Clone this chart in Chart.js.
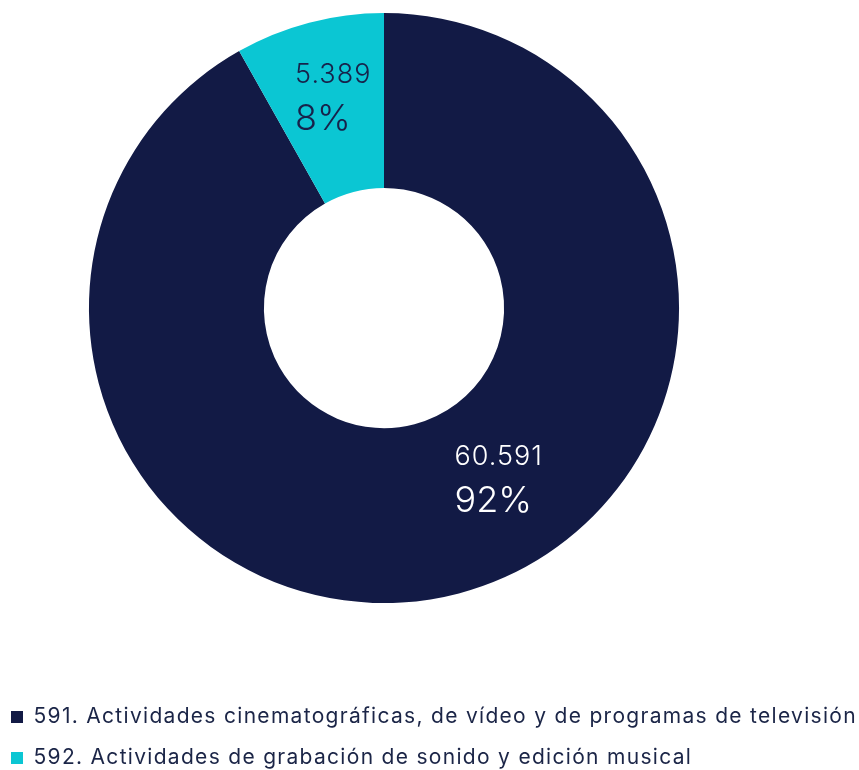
<!DOCTYPE html>
<html lang="es">
<head>
<meta charset="utf-8">
<title>Actividades cinematográficas y musicales</title>
<script src="https://cdn.jsdelivr.net/npm/chart.js@4.4.1/dist/chart.umd.min.js"></script>
<style>
  html, body { margin: 0; padding: 0; background: #ffffff; }
  #wrap { width: 859px; height: 770px; position: relative; }
</style>
</head>
<body>
<div id="wrap"><canvas id="myChart"></canvas></div>
<script>
// categorías y valores
const labels = [
  '591. Actividades cinematográficas, de vídeo y de programas de televisión',
  '592. Actividades de grabación de sonido y edición musical'
];
const values = [60591, 5389];
const colors = ['#121a45', '#0bc6d3'];
const labelColors = ['#ffffff', '#17224a'];

const FONT = 'Inter, "Noto Sans", sans-serif';

// formato con punto de miles
function fmt(n) {
  return String(n).replace(/\B(?=(\d{3})+(?!\d))/g, '.');
}

// espacio vacío a la derecha del anillo (solo afecta al área del gráfico, no a la leyenda)
const rightGap = {
  id: 'rightGap',
  beforeInit(chart) {
    Chart.layouts.addBox(chart, {
      position: 'right',
      weight: 0,
      fullSize: false,
      options: {},
      update(maxWidth, maxHeight) { this.width = 91; this.height = maxHeight; },
      isHorizontal() { return false; },
      getPadding() { return { left: 0, right: 0, top: 0, bottom: 0 }; },
      draw() {}
    });
  }
};

// la leyenda lleva algo de espaciado entre letras
const legendSpacing = {
  id: 'legendSpacing',
  beforeDraw(chart) { chart.ctx.letterSpacing = '1.3px'; },
  beforeDatasetsDraw(chart) { chart.ctx.letterSpacing = '0px'; }
};

// etiquetas de valor y porcentaje dentro de cada sector
const sliceLabels = {
  id: 'sliceLabels',
  afterDatasetsDraw(chart) {
    const ctx = chart.ctx;
    const meta = chart.getDatasetMeta(0);
    const total = values.reduce((a, b) => a + b, 0);
    const place = [{ a: 0.444, r: 0.49 }, { a: 0.52, r: 0.55 }]; // dónde va el texto en cada arco
    meta.data.forEach((arc, i) => {
      const p = arc.getProps(['x', 'y', 'startAngle', 'endAngle', 'innerRadius', 'outerRadius'], true);
      const ang = p.startAngle + place[i].a * (p.endAngle - p.startAngle);
      const rad = p.innerRadius + place[i].r * (p.outerRadius - p.innerRadius);
      const cx = p.x + Math.cos(ang) * rad;
      const cy = p.y + Math.sin(ang) * rad;
      const line1 = fmt(values[i]);
      const line2 = Math.round(values[i] / total * 100) + '%';
      ctx.save();
      ctx.fillStyle = labelColors[i];
      ctx.textBaseline = 'middle';
      ctx.textAlign = 'left';
      ctx.letterSpacing = '1px';
      ctx.font = '300 27px ' + FONT;
      const w1 = ctx.measureText(line1).width;
      ctx.letterSpacing = '0px';
      ctx.font = '300 36px ' + FONT;
      const w2 = ctx.measureText(line2).width;
      const left = cx - Math.max(w1, w2) / 2 + 2;
      ctx.letterSpacing = '1px';
      ctx.font = '300 27px ' + FONT;
      ctx.fillText(line1, left, cy - 23);
      ctx.letterSpacing = '0px';
      ctx.font = '300 36px ' + FONT;
      ctx.fillText(line2, left, cy + 21);
      ctx.restore();
    });
  }
};

const ctx = document.getElementById('myChart');
const chart = new Chart(ctx, {
  type: 'doughnut',
  data: {
    labels: labels,
    datasets: [{
      data: values,
      backgroundColor: colors,
      borderWidth: 0
    }]
  },
  options: {
    responsive: true,
    maintainAspectRatio: false,
    animation: false,
    cutout: '40.7%',
    layout: {
      padding: { left: -9, right: 0, top: 13, bottom: -8.5 }
    },
    plugins: {
      tooltip: { enabled: false },
      legend: {
        position: 'bottom',
        align: 'start',
        title: {
          display: true,
          text: ' ',
          font: { size: 12 },
          padding: { top: 69, bottom: 0 }
        },
        labels: {
          boxWidth: 12,
          boxHeight: 12,
          padding: 20,
          color: '#1b2547',
          font: { family: FONT, size: 21 }
        }
      }
    }
  },
  plugins: [rightGap, legendSpacing, sliceLabels]
});
</script>
</body>
</html>
